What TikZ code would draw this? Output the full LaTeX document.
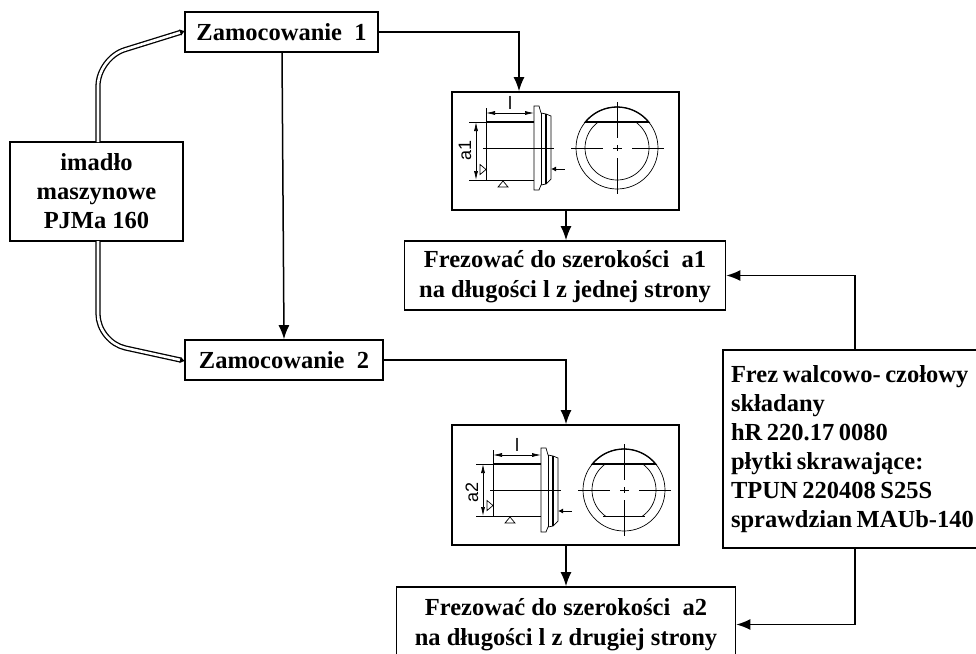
\documentclass[tikz,border=0pt]{standalone}
\usepackage{fontspec}
\setmainfont{Liberation Serif}
\setsansfont{Liberation Sans}
\usetikzlibrary{arrows.meta,positioning}
\tikzset{
  labelbox/.style={draw,line width=1.6pt,fill=white,align=center,font=\fontsize{24.5}{30}\selectfont\bfseries,inner sep=0pt},
  photobox/.style={draw,line width=1.6pt,fill=white,inner sep=0pt},
  flowline/.style={line width=1.5pt,-{Latex[length=14pt,width=11pt]}},
  twinline/.style={double,double distance=2.6pt,line width=1.3pt,-{Latex[length=5pt,width=7pt]}},
  partline/.style={line width=.7pt},
  thickline/.style={line width=1.3pt},
  dimline/.style={line width=.7pt,{Latex[length=9pt,width=4pt]}-{Latex[length=9pt,width=4pt]}},
  axisline/.style={line width=.7pt},
  dimtext/.style={font=\sffamily\fontsize{18}{18}\selectfont,inner sep=0pt}
}
\newcommand{\drawpart}[5]{%
  \begin{scope}[shift={(#1,#2)}]
    % body
    \draw[partline] (0,-26) -- (0,#4) -- (48,#4);
    \draw[thickline] (0,-26) -- (48,-26);
    \draw[axisline] (-3,0) -- (68,0);
    % flange
    \draw[partline] (48,-42) -- (53,-42) -- (55,-35) -- (60,-34) -- (65,-32) -- (65,31) -- (60,36) -- (55,37) -- (53,42) -- (48,42) -- cycle;
    \draw[partline] (55,-35) -- (55,37);
    \draw[thickline] (60,-34) -- (60,36);
    % dimensions
    \draw[partline] (0,-40) -- (0,-26);
    \draw[dimline] (0,-35) -- (48,-35);
    \node[dimtext] (#3len) at (24,-45) {l};
    \draw[partline] (-17,-26) -- (0,-26) (-17,#4) -- (0,#4);
    \draw[dimline] (-10,-26) -- (-10,#4);
    \node[dimtext,rotate=90] (#3dim) at (-21,2) {#3};
    \draw[partline] (-6,#4-15.5) -- (0,#4-10.5) -- (-6,#4-5.5) -- cycle;
    \draw[partline] (12,#4+7) -- (17,#4+1) -- (22,#4+7) -- cycle;
    \draw[line width=.9pt,{Latex[length=5pt,width=5pt]}-] (65,21) -- (79,21);
    % end view
    \draw[partline] (131,0) circle (41);
    \begin{scope}
      \clip (85,-26) rectangle (177,#5);
      \draw[partline] (131,0) circle (32);
    \end{scope}
    \begin{scope}
      \clip (85,-46) rectangle (177,-26);
      \draw[thickline] (131,0) circle (41);
    \end{scope}
    \draw[thickline] (99,-26) -- (163,-26);
    \draw[axisline] (85,0) -- (117,0) (127,0) -- (136,0) (146,0) -- (178,0);
    \draw[axisline] (131,-46) -- (131,-10) (131,-3) -- (131,3) (131,10) -- (131,46);
  \end{scope}}
\begin{document}
\begin{tikzpicture}[x=1pt,y=-1pt]
  \useasboundingbox (0,0) rectangle (976,653);
  \node[labelbox,minimum width=193pt,minimum height=40pt] (mount1) at (281.5,32) {Zamocowanie\ \ 1};
  \node[labelbox,minimum width=198pt,minimum height=40pt] (mount2) at (284,360) {Zamocowanie\ \ 2};
  \node[labelbox,font=\fontsize{24.5}{29}\selectfont\bfseries,minimum width=173pt,minimum height=99pt] (vise) at (96.5,191.5) {imadło\\maszynowe\\PJMa 160};
  \node[photobox,minimum width=227pt,minimum height=118pt] (sketch1) at (565.5,151) {};
  \node[photobox,minimum width=227pt,minimum height=120pt] (sketch2) at (565.5,485) {};
  \node[labelbox,minimum width=321pt,minimum height=69pt] (mill1) at (565,275.5) {\rule{0pt}{20pt}Frezować do szerokości\ \ a1\\na długości l z jednej strony};
  \node[labelbox,minimum width=339pt,minimum height=75pt] (mill2) at (566,624.5) {Frezować do szerokości\ \ a2\\na długości l z drugiej strony};
  \node[labelbox,align=left,font=\fontsize{24.5}{29}\selectfont\bfseries,inner xsep=8pt,text width=260pt,minimum height=198pt] (cutter) at (861,449) {\spaceskip=4.6pt Frez walcowo- czołowy\\składany\\hR 220.17 0080\\płytki skrawające:\\TPUN 220408 S25S\\sprawdzian MAUb-140};
  \coordinate (v1) at (98,142);
  \coordinate (v2) at (98,241);
  \draw[twinline,rounded corners=28pt] (v1) -- (98,58) -- (185,31);
  \draw[twinline,rounded corners=28pt] (v2) -- (98,342) -- (185,361);
  \draw[flowline] (mount1.south -| 282,0) -- (mount2.north -| 284,0);
  \draw[flowline] (mount1.east) -| (sketch1.north -| 519,0);
  \draw[flowline] (mount2.east) -| (sketch2.north -| 566,0);
  \draw[flowline] (sketch1.south -| 566,0) -- (mill1.north -| 566,0);
  \draw[flowline] (sketch2.south -| 566,0) -- (mill2.north -| 566,0);
  \draw[flowline] (cutter.north -| 855,0) |- (mill1.east);
  \draw[flowline] (cutter.south -| 855,0) |- (mill2.east);
  \drawpart{486}{148}{a1}{32}{50}
  \drawpart{493}{490}{a2}{26}{26}
  \draw[partline] (603,516) -- (645,516);
\end{tikzpicture}
\end{document}
